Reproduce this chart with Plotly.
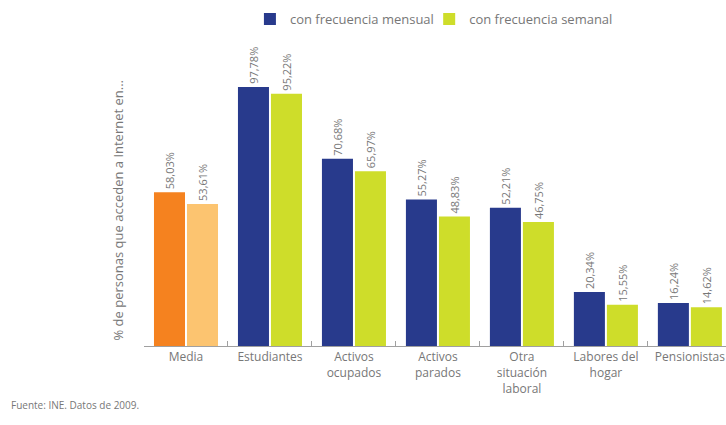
import plotly.graph_objects as go

categorias = ["Media", "Estudiantes", "Activos<br>ocupados", "Activos<br>parados",
              "Otra<br>situación<br>laboral", "Labores del<br>hogar", "Pensionistas"]
mensual = [58.03, 97.78, 70.68, 55.27, 52.21, 20.34, 16.24]
semanal = [53.61, 95.22, 65.97, 48.83, 46.75, 15.55, 14.62]

NAVY = "#283A8C"
LIME = "#CEDD2A"
ORANGE = "#F5821F"
LIGHT_ORANGE = "#FCC470"
GREY = "#777777"
FONT = "Open Sans"


def etiqueta(v):
    return f"{v:.2f}%".replace(".", ",")


def barras(nombre, xs, ys, color, grupo, leyenda, cual):
    return go.Bar(
        name=nombre, x=xs, y=ys,
        offsetgroup=grupo, legendgroup=grupo, showlegend=leyenda, legend=cual,
        marker=dict(color=color, line=dict(width=0)),
        text=[etiqueta(v) for v in ys],
        textposition="outside", textangle=-90, constraintext="none",
        textfont=dict(family=FONT, size=11, color=GREY),
        cliponaxis=False,
    )


fig = go.Figure()
# Media (first category) in orange tones, the rest in navy / lime
fig.add_trace(barras("con frecuencia mensual", categorias[:1], mensual[:1], ORANGE, "m", False, "legend"))
fig.add_trace(barras("con frecuencia semanal", categorias[:1], semanal[:1], LIGHT_ORANGE, "s", False, "legend2"))
fig.add_trace(barras("con frecuencia mensual", categorias[1:], mensual[1:], NAVY, "m", True, "legend"))
fig.add_trace(barras("con frecuencia semanal", categorias[1:], semanal[1:], LIME, "s", True, "legend2"))

leyenda = dict(
    orientation="h", y=1.29, xanchor="left", yanchor="top",
    font=dict(family=FONT, size=13, color=GREY),
    itemwidth=30, bgcolor="rgba(0,0,0,0)",
)

fig.update_layout(
    width=726, height=425,
    margin=dict(l=144, r=0, t=81, b=79),
    paper_bgcolor="white", plot_bgcolor="white",
    barmode="group", bargap=0.214, bargroupgap=0.06,
    font=dict(family=FONT, size=12, color=GREY),
    showlegend=True,
    legend=dict(leyenda, x=0.182),
    legend2=dict(leyenda, x=0.490),
    xaxis=dict(
        type="category", categoryorder="array", categoryarray=categorias,
        range=[-0.5, 6.43],
        showline=True, linecolor="#A0A0A0", linewidth=1,
        ticks="inside", ticklen=5, tickcolor="#A0A0A0", tickson="boundaries",
        tickfont=dict(family=FONT, size=12, color=GREY),
        showgrid=False, fixedrange=True,
    ),
    yaxis=dict(
        range=[0, 100], visible=False, showgrid=False, zeroline=False,
    ),
    annotations=[
        dict(text="% de personas que acceden a Internet en...",
             xref="paper", yref="paper", x=-0.0447, y=0.515,
             xanchor="center", yanchor="middle", textangle=-90,
             showarrow=False, font=dict(family=FONT, size=13, color=GREY)),
        dict(text="Fuente: INE. Datos de 2009.",
             xref="paper", yref="paper", x=-0.232, y=-0.223,
             xanchor="left", yanchor="middle",
             showarrow=False, font=dict(family=FONT, size=10, color=GREY)),
    ],
)

fig.write_html("out.html")
